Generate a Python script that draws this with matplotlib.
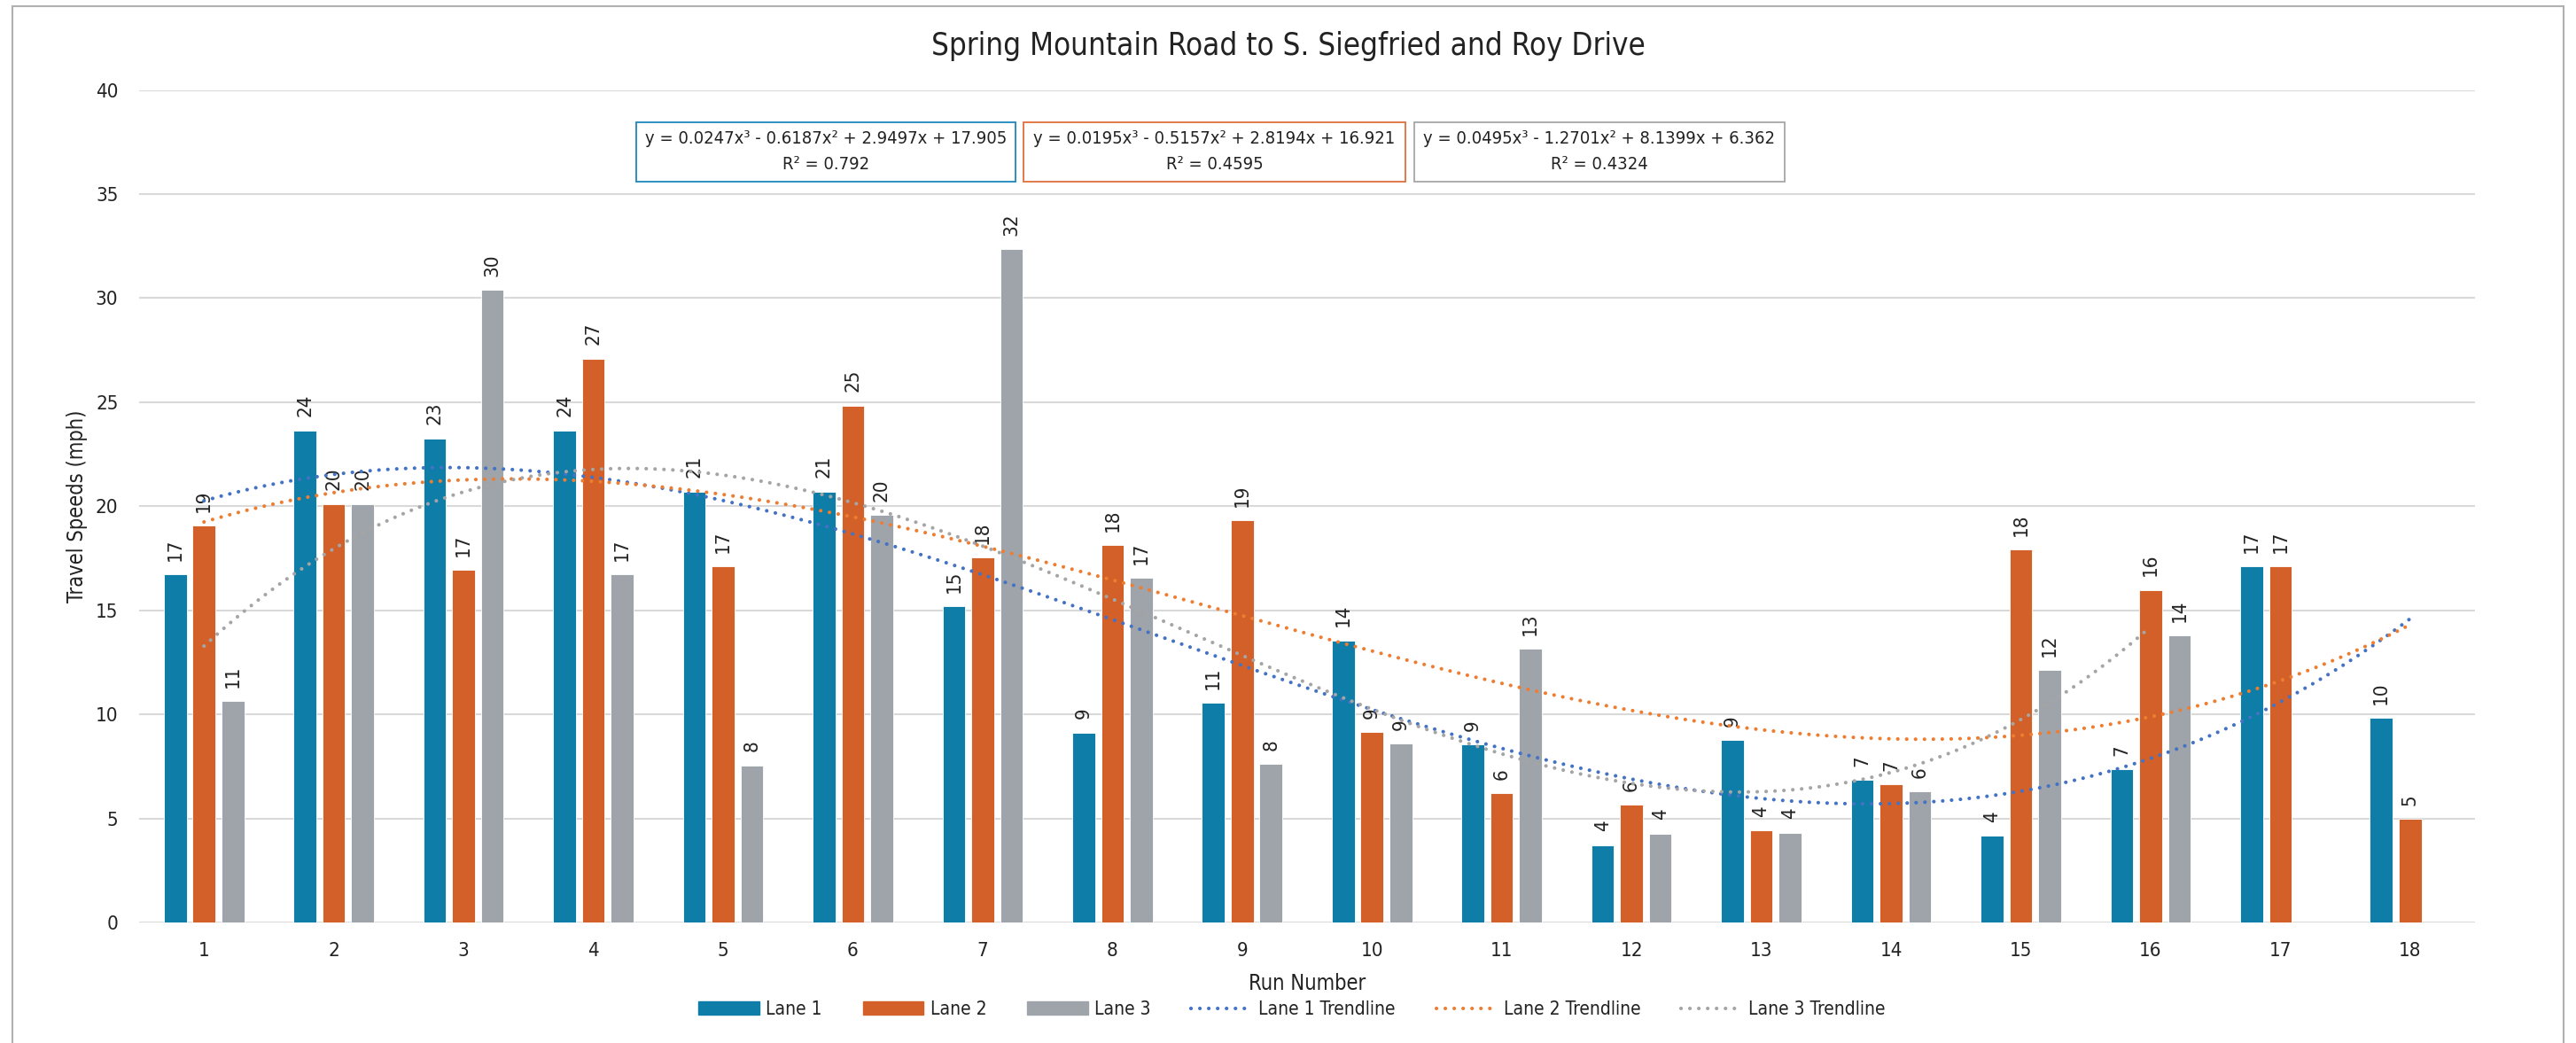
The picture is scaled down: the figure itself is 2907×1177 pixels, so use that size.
import os
import numpy as np
import matplotlib
matplotlib.use("Agg")
from matplotlib import pyplot as plt
from matplotlib import font_manager
from matplotlib.font_manager import FontProperties
from matplotlib.patches import Rectangle, Patch
from matplotlib.lines import Line2D


def pick_face():
    # regular-weight condensed sans; plain condensed before semi/extra widths
    best = None
    for f in font_manager.fontManager.ttflist:
        if f.name not in ("Liberation Sans Narrow", "Noto Sans", "Open Sans",
                          "DejaVu Sans", "Roboto", "Lato", "Inter"):
            continue
        if f.style != "normal" or f.stretch == "normal":
            continue
        base = os.path.basename(f.fname).lower()
        w = f.weight if isinstance(f.weight, (int, float)) else \
            font_manager.weight_dict.get(f.weight, 400)
        rank = 2 if ("extra" in base or "ultra" in base) else (1 if "semi" in base else 0)
        key = (abs(w - 400), rank, base)
        if best is None or key < best[0]:
            best = (key, f.fname)
    return best[1] if best else None


face = pick_face()


def fp(size):
    if face:
        return FontProperties(fname=face, size=size)
    return FontProperties(family="Liberation Sans", size=size * 0.9)


runs = np.arange(1, 19)
lane1 = [16.74, 23.64, 23.26, 23.64, 20.71, 20.71, 15.19, 9.13, 10.54, 13.55,
         8.55, 3.72, 8.75, 6.85, 4.18, 7.36, 17.12, 9.84]
lane2 = [19.08, 20.11, 16.93, 27.09, 17.12, 24.84, 17.53, 18.13, 19.32, 9.16,
         6.22, 5.65, 4.43, 6.63, 17.93, 15.98, 17.12, 4.97]
lane3 = [10.63, 20.11, 30.38, 16.74, 7.55, 19.59, 32.36, 16.55, 7.61, 8.59,
         13.15, 4.27, 4.32, 6.28, 12.12, 13.78, np.nan, np.nan]

# cubic trendlines (highest power first) and their R²
fit1 = [0.0247, -0.6187, 2.9497, 17.905]
fit2 = [0.0195, -0.5157, 2.8194, 16.921]
fit3 = [0.0495, -1.2701, 8.1399, 6.362]
r2 = ["0.792", "0.4595", "0.4324"]

names = ["Lane 1", "Lane 2", "Lane 3"]
bar_colors = ["#0E7DA8", "#D26028", "#9EA4AA"]
trend_colors = ["#4472C4", "#ED7D31", "#A5A5A5"]
box_colors = ["#1B86BA", "#E0703C", "#A6A6A6"]
txt = "#222222"

W, H = 2907, 1177
fig = plt.figure(figsize=(W / 100, H / 100), dpi=100)

def fx(px):
    return px / W

def fy(py):
    return 1 - py / H

ax = fig.add_axes([fx(157), fy(1041), fx(2793 - 157), (1041 - 101.5) / H])

width = 0.175
offsets = [-0.222, 0, 0.222]
for vals, off, col in zip([lane1, lane2, lane3], offsets, bar_colors):
    vals = np.array(vals, dtype=float)
    ok = ~np.isnan(vals)
    ax.bar(runs[ok] + off, vals[ok], width, color=col,
           edgecolor="white", linewidth=0.6, zorder=2)
    for x, v in zip(runs[ok] + off, vals[ok]):
        ax.annotate(f"{v:.0f}", (x, v), xytext=(0, 11), textcoords="offset points",
                    rotation=90, ha="center", va="bottom", color=txt,
                    fontproperties=fp(16))

dot = (0, (0.01, 2.4))
for vals, fit, col in zip([lane1, lane2, lane3], [fit1, fit2, fit3], trend_colors):
    last = runs[~np.isnan(np.array(vals, dtype=float))][-1]
    xs = np.linspace(1, last, 300)
    ax.plot(xs, np.polyval(fit, xs), color=col, lw=3.0, ls=dot,
            dash_capstyle="round", zorder=3)

ax.set_xlim(0.5, 18.5)
ax.set_ylim(0, 40)
ax.set_xticks(runs)
ax.set_yticks(np.arange(0, 41, 5))
ax.yaxis.grid(True, color="#D9D9D9", lw=1.5, zorder=0)
ax.set_axisbelow(True)
for s in ax.spines.values():
    s.set_visible(False)
ax.tick_params(axis="both", length=0, labelcolor=txt)
ax.tick_params(axis="y", pad=17)
ax.tick_params(axis="x", pad=16)
for lbl in ax.get_xticklabels() + ax.get_yticklabels():
    lbl.set_fontproperties(fp(16))

fig.text(0.5, fy(52), "Spring Mountain Road to S. Siegfried and Roy Drive",
         ha="center", va="center", color=txt, fontproperties=fp(25))
fig.text(fx(87), (fy(1041) + fy(101.5)) / 2, "Travel Speeds (mph)", rotation=90,
         ha="center", va="center", color=txt, fontproperties=fp(17))
fig.text(fx(1475), fy(1110), "Run Number", ha="center", va="center",
         color=txt, fontproperties=fp(17))


def eq_text(c):
    s = f"y = {c[0]}x³"
    for coef, p in zip(c[1:], ["x²", "x", ""]):
        s += (" - " if coef < 0 else " + ") + f"{abs(coef)}{p}"
    return s


# trendline equation boxes
boxes = [(718, 1146), (1155, 1586), (1596, 2014)]
for (x0, x1), fit, r, ec in zip(boxes, [fit1, fit2, fit3], r2, box_colors):
    fig.add_artist(Rectangle((fx(x0), fy(205)), fx(x1 - x0), (205 - 138) / H,
                             transform=fig.transFigure, facecolor="white",
                             edgecolor=ec, lw=1.3))
    cx = fx((x0 + x1) / 2)
    fig.text(cx, fy(157), eq_text(fit), ha="center", va="center", color=txt,
             fontproperties=fp(14.5))
    fig.text(cx, fy(185), f"R² = {r}", ha="center", va="center", color=txt,
             fontproperties=fp(14.5))

handles = [Patch(color=c) for c in bar_colors]
handles += [Line2D([], [], color=c, lw=3.0, ls=dot, dash_capstyle="round")
            for c in trend_colors]
labels = names + [n + " Trendline" for n in names]
fig.legend(handles, labels, loc="center", bbox_to_anchor=(fx(1458), fy(1139)),
           ncol=6, frameon=False, prop=fp(15), handlelength=3.3,
           handletextpad=0.35, columnspacing=2.2, labelcolor=txt)

# chart border
fig.add_artist(Rectangle((fx(14), -0.01), fx(2893 - 14), fy(7) + 0.01,
                         transform=fig.transFigure, fill=False,
                         edgecolor="#B0B0B0", lw=1.5))

fig.savefig("out.png", dpi=100)
